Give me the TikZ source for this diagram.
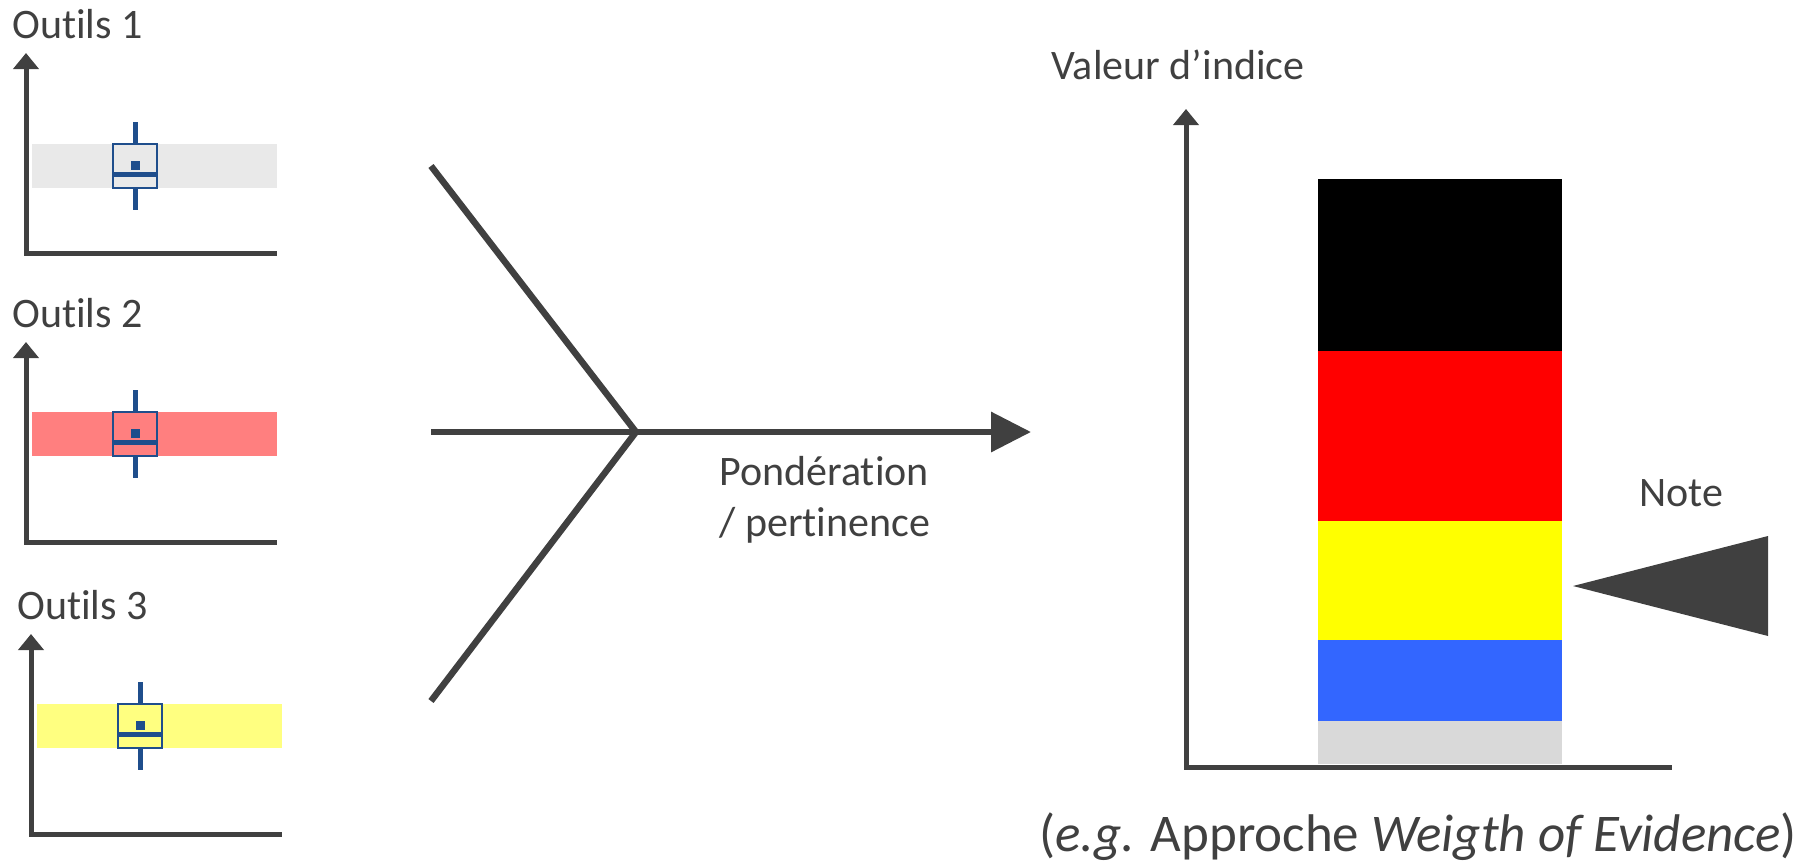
\documentclass[tikz,border=0pt]{standalone}
\usepackage{fontspec}
\setmainfont{Carlito}[Ligatures=NoCommon]
\usetikzlibrary{arrows.meta, positioning}
\definecolor{txtgray}{HTML}{404040}
\definecolor{boxblue}{HTML}{1F4E8C}
\definecolor{band1}{HTML}{E9E9E9}
\definecolor{band2}{HTML}{FF7F7F}
\definecolor{band3}{HTML}{FFFF80}
\definecolor{barred}{HTML}{FF0000}
\definecolor{baryellow}{HTML}{FFFF00}
\definecolor{barblue}{HTML}{3366FF}
\definecolor{bargray}{HTML}{D9D9D9}

\begin{document}
\begin{tikzpicture}[x=0.5pt, y=-0.5pt,
    lbl/.style={text=txtgray, inner sep=0pt, font=\fontsize{21}{25.5}\selectfont},
    axis/.style={draw=txtgray, line width=2.5pt, arrows={Triangle[width=12.5pt,length=8pt]-}},
    fan/.style={draw=txtgray, line width=3.25pt},
    whisker/.style={draw=boxblue, line width=2.5pt},
    boxline/.style={draw=boxblue, line width=1pt},
    median/.style={draw=boxblue, line width=2.5pt},
    meanpt/.style={fill=boxblue, minimum size=4.5pt, inner sep=0pt}]
    \useasboundingbox (0,0) rectangle (1816,863);

    % Tool panels
    \foreach \i/\ox/\oy/\bt/\col in {1/26/253/-109/band1, 2/26/542/-130/band2, 3/31/834/-130/band3} {
        \begin{scope}[shift={(\ox,\oy)}]
            \coordinate (o\i) at (0,0);
            \node[lbl, anchor=base west] (outil\i) at (-14,-215) {Outils \i};
            \fill[\col] (6,\bt) rectangle (251,\bt+44);
            \draw[axis] (0,-200) -- (o\i) -- (251,0);
            \draw[whisker] (109,\bt-22) -- (109,\bt+66);
            \draw[boxline, fill=\col] (87,\bt) rectangle (131,\bt+44);
            \draw[median] (87,\bt+30) -- (131,\bt+30);
            \node[meanpt] (mean\i) at (109,\bt+21) {};
        \end{scope}
    }

    % Weighting
    \coordinate (j) at (636,432);
    \coordinate (in1) at (431,166);
    \coordinate (in2) at (431,432);
    \coordinate (in3) at (431,701);
    \coordinate (out) at (1031,432);
    \draw[fan] (in1) -- (j);
    \draw[fan] (in2) -- (j);
    \draw[fan] (in3) -- (j);
    \draw[fan, arrows=-{Triangle[width=19.5pt,length=20pt]}] (j) -- (out);
    \node[lbl, align=left, anchor=base west] (pond) at (719,536) {Pondération\\/ pertinence};

    % Index chart
    \coordinate (o4) at (1186,767);
    \node[lbl, anchor=base west] (valeur) at (1051,79) {Valeur d’indice};
    \fill[black] (1318,179) rectangle (1562,351);
    \fill[barred] (1318,351) rectangle (1562,521);
    \fill[baryellow] (1318,521) rectangle (1562,640);
    \fill[barblue] (1318,640) rectangle (1562,721);
    \fill[bargray] (1318,721) rectangle (1562,764);
    \draw[axis] (1186,109) -- (o4) -- (1672,767);

    % Note pointer
    \coordinate (notetip) at (1573,586);
    \fill[txtgray] (notetip) -- (1768,536) -- (1768,636) -- cycle;
    \node[lbl, anchor=base west] (note) at (1639,506) {Note};
    \node[lbl, font=\fontsize{26.5}{32}\selectfont, anchor=base west] (woe) at (1039,851) {(\textit{e.g.} Approche \textit{Weigth of Evidence})};
\end{tikzpicture}
\end{document}
